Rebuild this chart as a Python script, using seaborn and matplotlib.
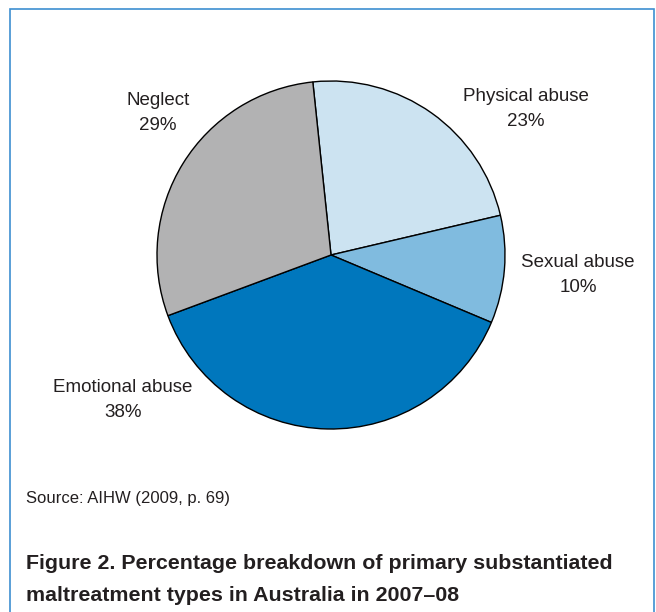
import matplotlib.pyplot as plt
import matplotlib.patches as mpatches
import seaborn as sns

# data
types = ['Physical abuse', 'Sexual abuse', 'Emotional abuse', 'Neglect']
shares = [23, 10, 38, 29]
colors = ['#cce3f1', '#80bbdf', '#0077bd', '#b2b2b3']

sns.set_theme(style='white')
plt.rcParams['font.family'] = ['Liberation Sans', 'DejaVu Sans']

fig = plt.figure(figsize=(6.56, 6.12), dpi=100)

# frame round the whole figure
fig.patches.append(mpatches.Rectangle((10/656, -0.05), 644/656, 1.05 - 9/612,
                                      transform=fig.transFigure, fill=False,
                                      edgecolor='#3d8fd1', linewidth=1.2))

ax = fig.add_axes([157/656, (612-429)/612, 348/656, 348/612])
ax.pie(shares, colors=colors, startangle=96, counterclock=False,
       wedgeprops=dict(edgecolor='black', linewidth=1.0))
ax.set_xlim(-1.0, 1.0)
ax.set_ylim(-1.0, 1.0)

label_pos = {
    'Physical abuse': (526, 109),
    'Sexual abuse': (578, 275),
    'Emotional abuse': (123, 400),
    'Neglect': (158, 113),
}
for t, s in zip(types, shares):
    x, y = label_pos[t]
    fig.text(x/656, 1 - y/612, f'{t}\n{s}%', ha='center', va='center',
             fontsize=13.5, color='#231f20', linespacing=1.65)

fig.text(26/656, 1 - 498/612, 'Source: AIHW (2009, p. 69)', ha='left', va='center',
         fontsize=12, color='#231f20')
fig.text(26/656, 1 - 601/612,
         'Figure 2. Percentage breakdown of primary substantiated\n'
         'maltreatment types in Australia in 2007\u201308',
         ha='left', va='baseline', fontsize=15.4, fontweight='bold', color='#231f20',
         linespacing=1.85)

fig.savefig('out.png', dpi=100)
